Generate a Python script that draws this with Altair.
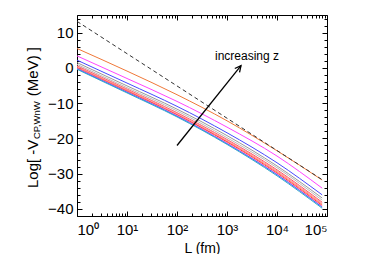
import altair as alt
import pandas as pd

# ---- data ----
L_points = [1, 10, 100, 1000, 10000, 80000]
series_names = ["z1", "z2", "z3", "z4", "z5", "z6", "z7", "z8", "z9", "z10", "z11", "z12"]
series_values = [
    [5.5, -0.9, -7.6, -15.0, -23.5, -31.8],
    [3.4, -3.0, -9.5, -16.8, -25.0, -34.1],
    [2.2, -4.3, -10.9, -18.4, -26.9, -36.0],
    [1.5, -5.1, -11.7, -19.2, -27.8, -36.9],
    [1.0, -5.6, -12.2, -19.8, -28.3, -37.5],
    [0.6, -6.0, -12.7, -20.3, -28.9, -38.1],
    [0.4, -6.2, -12.9, -20.5, -29.2, -38.4],
    [0.2, -6.4, -13.2, -20.8, -29.5, -38.7],
    [0.0, -6.6, -13.3, -21.0, -29.8, -39.0],
    [-0.1, -6.8, -13.5, -21.3, -30.1, -39.3],
    [-0.25, -6.9, -13.7, -21.5, -30.3, -39.5],
    [-0.4, -7.1, -13.9, -21.7, -30.6, -39.8],
]
series_colors = ["#f07838", "#ff44ff", "#4848ff", "#999999", "#bbbbbb", "#ff5a5a",
                 "#ff88aa", "#ff9060", "#ff4444", "#ff66cc", "#3f6fff", "#33a8c8"]

dashed_L = [1, 80000]
dashed_V = [13.2, -31.7]

arrow_L = [100, 1905]
arrow_V = [-22.0, 0.65]

note_L = [2512]
note_V = [3.35]
note_text = ["increasing z"]

x_major = [1, 10, 100, 1000, 10000, 100000]
x_minor = [m * 10 ** k for k in range(5) for m in range(2, 10)]
y_major = [-40, -30, -20, -10, 0, 10]
y_minor = [v for v in range(-42, 16, 2) if v % 10 != 0]

# ---- tables ----
rows = []
for name, vals in zip(series_names, series_values):
    for L, v in zip(L_points, vals):
        rows.append({"series": name, "L": L, "V": v})
lines_df = pd.DataFrame(rows)
dashed_df = pd.DataFrame({"L": dashed_L, "V": dashed_V})
arrow_df = pd.DataFrame({"L": arrow_L, "V": arrow_V})
head_df = pd.DataFrame({"L": arrow_L[-1:], "V": arrow_V[-1:]})
note_df = pd.DataFrame({"L": note_L, "V": note_V, "t": note_text})

xs = alt.Scale(type="log", domain=[1, 100000], nice=False)
ys = alt.Scale(domain=[-42, 15], nice=False, zero=False)

FONT = "Liberation Sans"
sup = "'10' + ['\u2070','\u00b9','\u00b2','\u00b3','\u2074','\u2075'][round(log(datum.value)/LN10)]"


def ax(orient, values, size, labels=False, **kw):
    return alt.Axis(orient=orient, values=values, tickSize=size, offset=-size,
                    domain=False, grid=False, labels=labels, ticks=True,
                    tickColor="black", tickWidth=1, **kw)


lines = alt.Chart(lines_df).mark_line(strokeWidth=1, clip=True, interpolate="monotone").encode(
    x=alt.X("L:Q", scale=xs,
            axis=ax("bottom", x_major, 5, labels=True, labelExpr=sup, labelPadding=6,
                    labelFontSize=15, labelFont=FONT, labelColor="black",
                    title="L (fm)", titleFontSize=14, titleFont=FONT,
                    titleFontWeight="normal", titleColor="black", titlePadding=4)),
    y=alt.Y("V:Q", scale=ys,
            axis=ax("left", y_major, 5, labels=True, labelPadding=4,
                    labelFontSize=15, labelFont=FONT, labelColor="black", title=None)),
    color=alt.Color("series:N", scale=alt.Scale(domain=series_names, range=series_colors),
                    legend=None),
)

dashed = alt.Chart(dashed_df).mark_line(strokeWidth=1, color="#333333",
                                        strokeDash=[4, 3]).encode(
    x=alt.X("L:Q", scale=xs, axis=ax("top", x_major, 5, title=None)),
    y=alt.Y("V:Q", scale=ys, axis=ax("right", y_major, 5, title=None)),
)

arrow = alt.Chart(arrow_df).mark_line(strokeWidth=1.3, color="black").encode(
    x=alt.X("L:Q", scale=xs, axis=ax("bottom", x_minor, 3, title=None)),
    y=alt.Y("V:Q", scale=ys, axis=ax("left", y_minor, 3, title=None)),
)

head = alt.Chart(head_df).mark_point(shape="M-0.5,1L0,0L0.5,1", filled=False,
                                     strokeWidth=1.3, color="black", opacity=1,
                                     size=150, angle=38.7).encode(
    x=alt.X("L:Q", scale=xs, axis=ax("top", x_minor, 3, title=None)),
    y=alt.Y("V:Q", scale=ys, axis=ax("right", y_minor, 3, title=None)),
)

note = alt.Chart(note_df).mark_text(font=FONT, fontSize=12, color="black").encode(
    x=alt.X("L:Q", scale=xs, axis=None),
    y=alt.Y("V:Q", scale=ys, axis=None),
    text="t:N",
)

# y-axis title with subscript, in three pieces
title_df = pd.DataFrame({"a": [0]})
t1 = alt.Chart(title_df).mark_text(text="Log[ -V", angle=270, align="left", baseline="middle",
                                   font=FONT, fontSize=15, color="black").encode(
    x=alt.value(-44), y=alt.value(173))
t2 = alt.Chart(title_df).mark_text(text="CP,WnW", angle=270, align="left", baseline="middle",
                                   font=FONT, fontSize=9.5, color="black").encode(
    x=alt.value(-40), y=alt.value(124))
t3 = alt.Chart(title_df).mark_text(text="(MeV) ]", angle=270, align="right", baseline="middle",
                                   font=FONT, fontSize=15, color="black").encode(
    x=alt.value(-44), y=alt.value(32))

chart = alt.layer(lines, dashed, arrow, head, note, t1, t2, t3).resolve_axis(
    x="independent", y="independent"
).properties(
    width=250, height=201,
    autosize=alt.AutoSizeParams(type="none"),
    padding={"left": 69, "top": 7, "right": 39, "bottom": 38},
    background="white",
).configure_view(stroke="black", strokeWidth=1)

chart.save("out.html", embed_options={"renderer": "svg", "actions": False})
